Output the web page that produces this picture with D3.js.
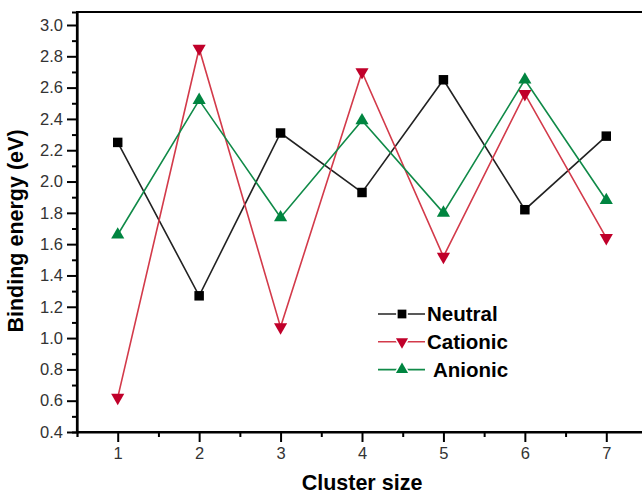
<!DOCTYPE html>
<html>
<head>
<meta charset="utf-8">
<script src="https://cdn.jsdelivr.net/npm/d3@7"></script>
<style>
  body { margin: 0; background: #fff; }
  svg { font-family: "Liberation Sans", Arial, sans-serif; }
</style>
</head>
<body>
<script>
var clusterSizes = [1, 2, 3, 4, 5, 6, 7];
var neutral  = [2.25, 1.27, 2.31, 1.93, 2.65, 1.82, 2.29];
var cationic = [0.62, 2.85, 1.07, 2.70, 1.52, 2.56, 1.64];
var anionic  = [1.66, 2.52, 1.77, 2.39, 1.80, 2.65, 1.88];
var yTicks = [0.4, 0.6, 0.8, 1.0, 1.2, 1.4, 1.6, 1.8, 2.0, 2.2, 2.4, 2.6, 2.8, 3.0];

var series = [
  { name: "Neutral",  values: neutral,  line: "#222", fill: "#000", symbol: d3.symbolSquare, rot: 0, size: 90, gap: "" },
  { name: "Cationic", values: cationic, line: "#d33a4a", fill: "#c0002a", symbol: d3.symbolTriangle, rot: 180, size: 75, gap: "" },
  { name: "Anionic",  values: anionic,  line: "#108a48", fill: "#008540", symbol: d3.symbolTriangle, rot: 0, size: 75, gap: " " }
];

var width = 642, height = 495;
var svg = d3.select("body").append("svg").attr("width", width).attr("height", height);

const plotLeft = 77, plotTop = 12, plotBottom = 432;
const xScale = d3.scaleLinear().domain([0.5, 7.5]).range([plotLeft, 647]);
const yScale = d3.scaleLinear().domain([0.4, 3.083]).range([plotBottom, plotTop]);

// y axis
const yAxisG = svg.append("g").attr("transform", `translate(${plotLeft},0)`);
yAxisG.call(d3.axisLeft(yScale).tickValues(yTicks).tickFormat(d3.format(".1f")).tickSize(10).tickPadding(4));
yAxisG.append("g").call(d3.axisLeft(yScale).tickValues(d3.range(0.5, 3.0, 0.2)).tickSize(5).tickFormat(""));

// x axis
const xAxisG = svg.append("g").attr("transform", `translate(0,${plotBottom})`);
xAxisG.call(d3.axisBottom(xScale).tickValues(clusterSizes).tickFormat(d3.format("d")).tickSize(10).tickPadding(5));
xAxisG.append("g").call(d3.axisBottom(xScale).tickValues(d3.range(1.5, 7.6, 1)).tickSize(5).tickFormat(""));

svg.selectAll(".domain").attr("stroke", "#000").attr("stroke-width", 2.2);
svg.selectAll(".tick line").attr("stroke", "#000").attr("stroke-width", 2);
svg.selectAll(".tick text").attr("font-size", 16.5).attr("fill", "#333")
  .attr("font-family", "'Liberation Sans', Arial, sans-serif");
xAxisG.select(".domain").attr("d", `M${plotLeft},0H${width}`);
yAxisG.select(".domain").attr("d", `M0,${plotTop}V${plotBottom}`);

// top frame line
svg.append("line")
  .attr("x1", plotLeft - 1).attr("x2", width)
  .attr("y1", plotTop).attr("y2", plotTop)
  .attr("stroke", "#000").attr("stroke-width", 2.2);

// series
const line = d3.line().x((d, i) => xScale(clusterSizes[i])).y(d => yScale(d));
series.forEach(function (s) {
  svg.append("path")
    .attr("d", line(s.values))
    .attr("fill", "none")
    .attr("stroke", s.line)
    .attr("stroke-width", 1.6);
  svg.selectAll(null).data(s.values).enter().append("path")
    .attr("d", d3.symbol().type(s.symbol).size(s.size))
    .attr("transform", (d, i) => `translate(${xScale(clusterSizes[i])},${yScale(d)}) rotate(${s.rot})`)
    .attr("fill", s.fill);
});

// legend
const legend = svg.append("g").attr("transform", "translate(378,314)");
series.forEach(function (s, i) {
  const g = legend.append("g").attr("transform", `translate(0,${i * 27.8})`);
  g.append("line").attr("x1", 0).attr("x2", 47).attr("y1", 0).attr("y2", 0)
    .attr("stroke", s.line).attr("stroke-width", 1.6);
  g.append("path")
    .attr("d", d3.symbol().type(s.symbol).size(s.size * 0.85))
    .attr("transform", `translate(24,0) rotate(${s.rot})`)
    .attr("fill", s.fill)
    .attr("stroke", "#fff").attr("stroke-width", 3).attr("paint-order", "stroke");
  g.append("text")
    .attr("x", s.gap ? 55 : 49).attr("y", 0).attr("dy", "0.34em")
    .attr("font-size", 20.5).attr("font-weight", "bold").attr("fill", "#000")
    .text(s.name);
});

// axis titles
svg.append("text")
  .attr("x", 362).attr("y", 490)
  .attr("text-anchor", "middle")
  .attr("font-size", 21.5).attr("font-weight", "bold")
  .text("Cluster size");

svg.append("text")
  .attr("transform", "translate(23,231) rotate(-90)")
  .attr("text-anchor", "middle")
  .attr("font-size", 21.5).attr("font-weight", "bold")
  .text("Binding energy (eV)");
</script>
</body>
</html>
